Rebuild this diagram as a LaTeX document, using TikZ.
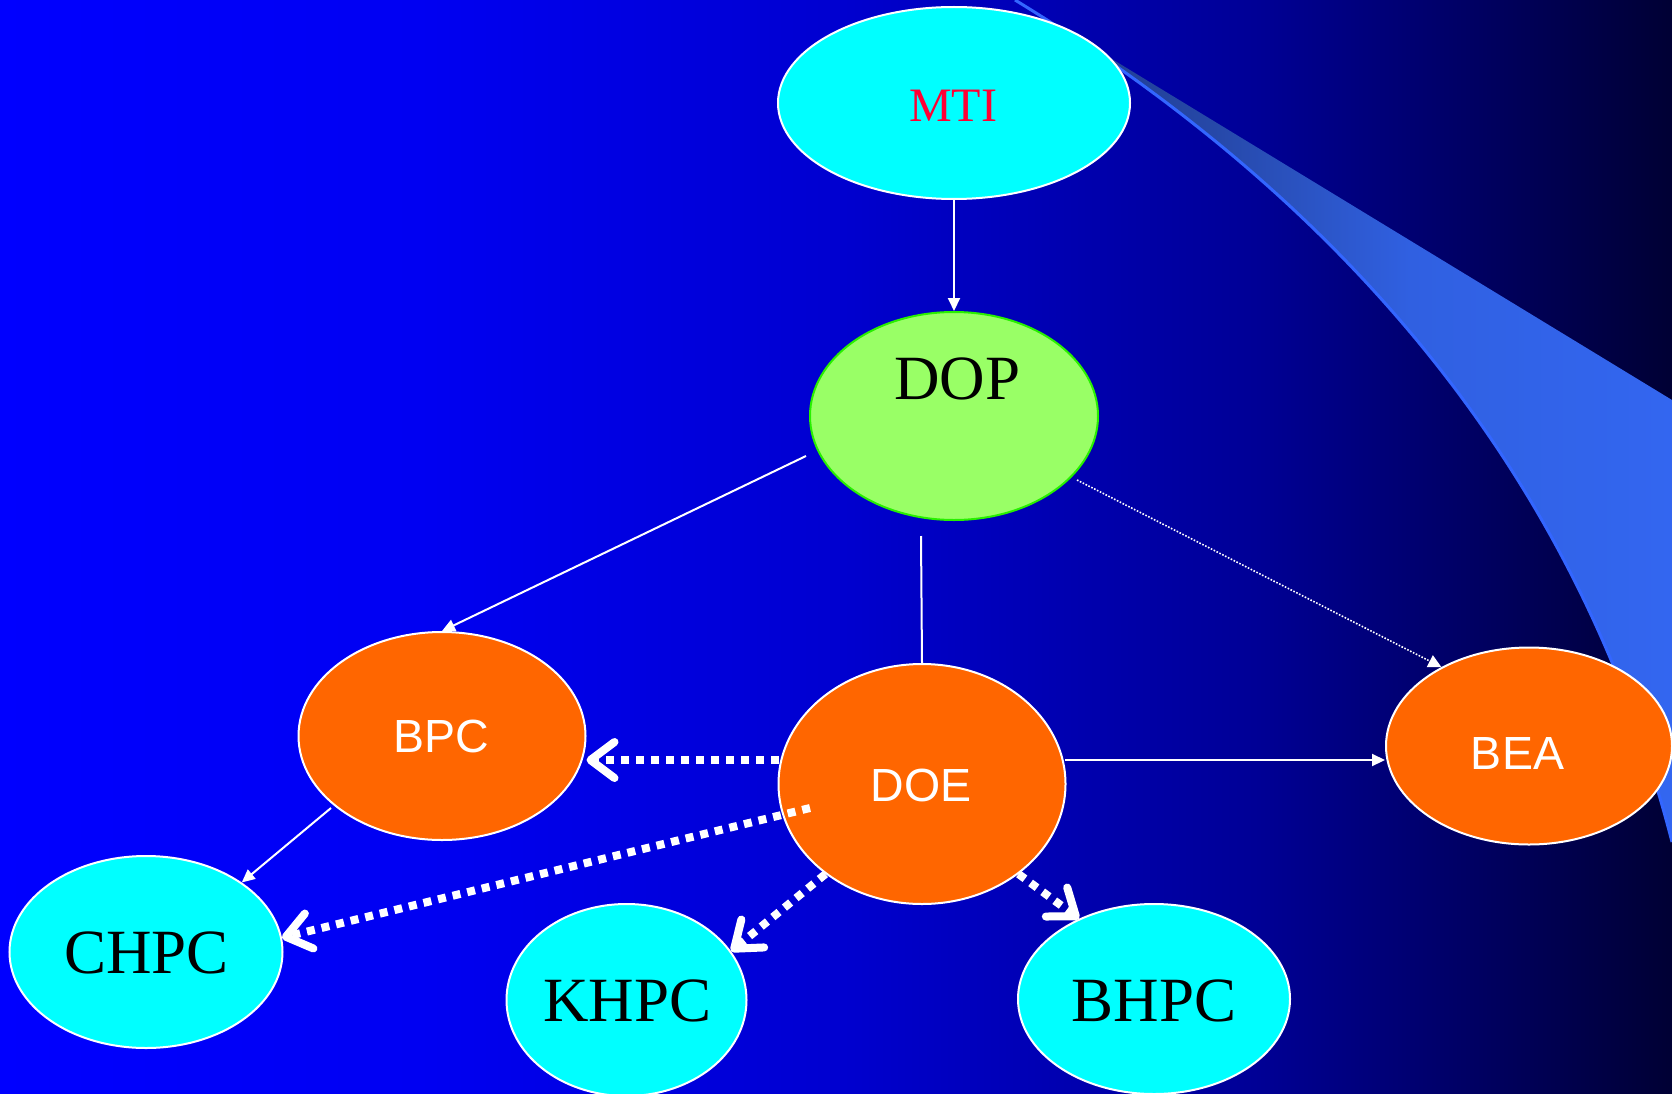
\documentclass[tikz,border=0pt]{standalone}
\usepackage{fontspec}
\setmainfont{Liberation Serif}
\newfontfamily\arialfont{Liberation Sans}
\usetikzlibrary{arrows.meta,shapes.geometric}

% palette
\definecolor{bgA}{RGB}{0,0,255}
\definecolor{bgB}{RGB}{0,0,242}
\definecolor{bgC}{RGB}{0,0,208}
\definecolor{bgD}{RGB}{0,0,150}
\definecolor{bgE}{RGB}{0,0,52}
\definecolor{swA}{RGB}{30,56,135}
\definecolor{swB}{RGB}{38,72,168}
\definecolor{swC}{RGB}{48,96,225}
\definecolor{swD}{RGB}{51,102,240}
\definecolor{swooshline}{RGB}{51,102,255}
\definecolor{nodecyan}{RGB}{0,255,255}
\definecolor{nodeorange}{RGB}{255,102,0}
\definecolor{doplime}{RGB}{153,255,102}
\definecolor{dopedge}{RGB}{40,240,0}
\definecolor{mtired}{RGB}{255,0,51}

% backdrop: bright blue fading to navy towards the right
\pgfdeclarehorizontalshading{bgshade}{100bp}{color(0bp)=(bgA); color(25bp)=(bgA);
  color(37.5bp)=(bgB); color(50bp)=(bgC); color(62.5bp)=(bgD); color(75bp)=(bgE); color(100bp)=(bgE)}
% decorative swoosh in the upper right
\pgfdeclarehorizontalshading{swooshshade}{100bp}{color(0bp)=(swA); color(25bp)=(swA);
  color(40bp)=(swB); color(55bp)=(swC); color(75bp)=(swD); color(100bp)=(swD)}

\tikzset{
  ell/.style={ellipse, draw=white, line width=2pt, inner sep=0pt},
  txt/.style={inner sep=0pt, text depth=0pt},
  serifbig/.style={txt, text=black, font=\fontsize{63}{63}\selectfont},
  sanslabel/.style={txt, text=white, font=\arialfont\fontsize{46.5}{46.5}\selectfont},
  thin/.style={draw=white, line width=2pt},
  thinarrow/.style={thin, -{Triangle[length=13pt,width=12pt]}},
  thindotarrow/.style={draw=white, line width=1.6pt, dash pattern=on 1.6pt off 1.6pt,
    -{Triangle[length=13pt,width=13pt]}},
  thickdot/.style={draw=white, line width=8pt, dash pattern=on 8pt off 7pt,
    -{Straight Barb[length=24pt,width=36pt,round]}}
}

\begin{document}
\begin{tikzpicture}[x=1pt,y=-1pt]
\useasboundingbox (0,0) rectangle (1672,1094);
\shade[shading=bgshade] (0,0) rectangle (1672,1094);

% swoosh
\coordinate (swTip) at (1015,0);
\shade[shading=swooshshade] (swTip) -- (1672,400) -- (1672,842)
  .. controls (1582.7,493.3) and (1363.7,212.7) .. (swTip) -- cycle;
\draw[swooshline, line width=3pt] (swTip) .. controls (1363.7,212.7) and (1582.7,493.3) .. (1672,842);

% ellipses
\node[ell, fill=nodecyan, minimum width=352pt, minimum height=192pt] (MTI) at (954,103) {};
\node[ell, fill=doplime, draw=dopedge, minimum width=288pt, minimum height=208pt] (DOP) at (954,416) {};
\node[ell, fill=nodeorange, minimum width=287pt, minimum height=208pt] (BPC) at (442,736) {};
\node[ell, fill=nodeorange, minimum width=287pt, minimum height=240pt] (DOE) at (922,784) {};
\node[ell, fill=nodeorange, minimum width=286pt, minimum height=197pt] (BEA) at (1529,746) {};
\node[ell, fill=nodecyan, minimum width=273pt, minimum height=192pt] (CHPC) at (146,952) {};
\node[ell, fill=nodecyan, minimum width=240pt, minimum height=192pt] (KHPC) at (626.5,1000) {};
\node[ell, fill=nodecyan, minimum width=272pt, minimum height=190pt] (BHPC) at (1154,999) {};

% labels
\node[txt, text=mtired, font=\fontsize{48}{48}\selectfont] (MTIt) at (953,105.5) {MTI};
\node[serifbig] (DOPt) at (957.5,378.5) {DOP};
\node[sanslabel] (BPCt) at (441.5,736) {BPC};
\node[sanslabel] (DOEt) at (921,785) {DOE};
\node[sanslabel] (BEAt) at (1517.5,753) {BEA};
\node[serifbig] (CHPCt) at (146.5,953) {CHPC};
\node[serifbig] (KHPCt) at (627.5,1001) {KHPC};
\node[serifbig] (BHPCt) at (1154,1001) {BHPC};

% free line ends
\coordinate (dopL) at (806,456);
\coordinate (dopR) at (1077,480);
\coordinate (dopB) at (921,536);
\coordinate (doeR) at (1065,760);
\coordinate (doeL) at (779,760);
\coordinate (doeIn) at (810,808);
\coordinate (bpcB) at (331,808);

% connectors
\draw[thinarrow] (MTI.south) -- (DOP.north);
\draw[thinarrow] (dopL) -- (BPC.north);
\draw[thindotarrow] (dopR) -- (BEA.138);
\draw[thin] (dopB) -- (DOE.north);
\draw[thinarrow] (doeR) -- (doeR -| BEA.west);
\draw[thinarrow] (bpcB) -- (CHPC.36);
\draw[thickdot] (doeL) -- (doeL -| BPC.east);
\draw[thickdot] (doeIn) -- (CHPC.6);
\draw[thickdot] (DOE.223) -- (KHPC.25);
\draw[thickdot] (DOE.317) -- (BHPC.133);
\end{tikzpicture}
\end{document}
